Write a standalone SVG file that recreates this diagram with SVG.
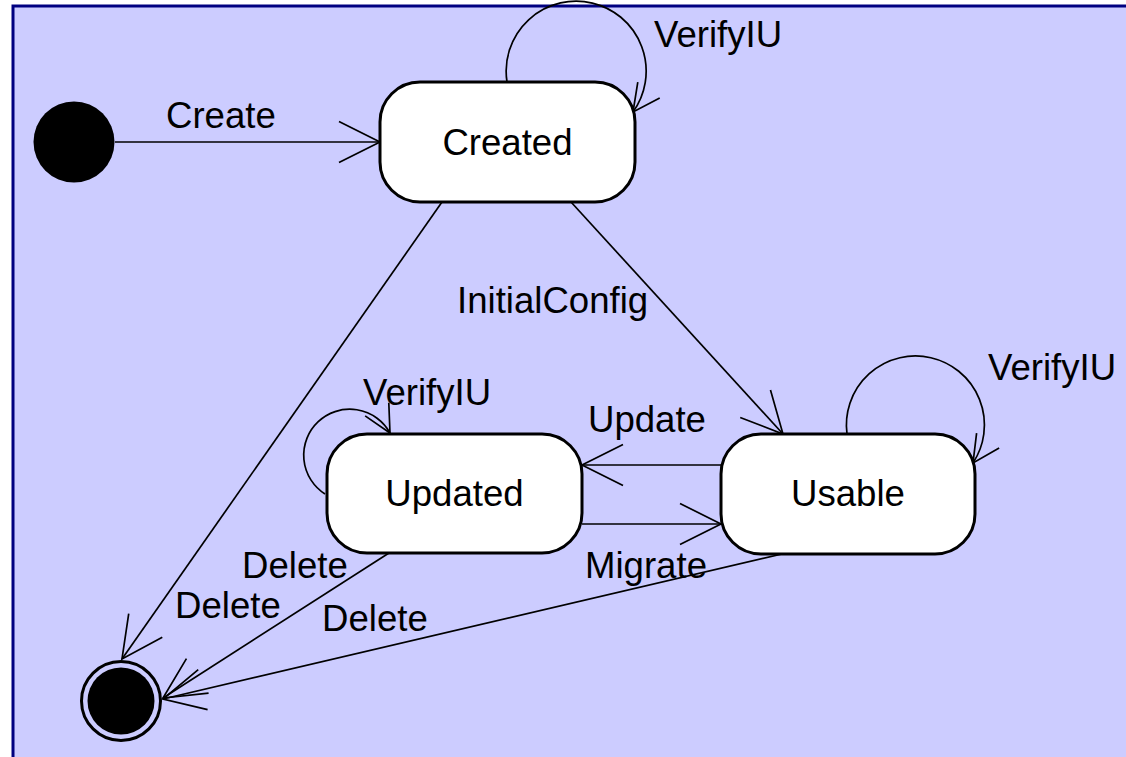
<svg xmlns="http://www.w3.org/2000/svg" width="1126" height="757" viewBox="0 0 1126 757">
  <style>
    .lbl { font-family: "Liberation Sans", Arial, sans-serif; font-size: 36.6px; fill: #000; }
    .state { fill: #fff; stroke: #000; stroke-width: 3; }
    .edge { fill: none; stroke: #000; stroke-width: 1.7; }
    .head { fill: none; stroke: #000; stroke-width: 1.7; stroke-linejoin: miter; }
  </style>
  <defs>
    <marker id="open" markerUnits="userSpaceOnUse" viewBox="-50 -30 60 60" markerWidth="60" markerHeight="60" refX="0" refY="0" orient="auto" overflow="visible">
      <path class="head" d="M-41,-20.5 L0,0 L-41,20.5"/>
    </marker>
    <marker id="openS" markerUnits="userSpaceOnUse" viewBox="-50 -30 60 60" markerWidth="60" markerHeight="60" refX="0" refY="0" orient="auto" overflow="visible">
      <path class="head" d="M-27,-13.5 L0,0 L-27,13.5"/>
    </marker>
  </defs>

  <rect id="background" x="13" y="6" width="1140" height="780" fill="#CCCCFF" stroke="#000080" stroke-width="3"/>

  <g id="connectors">
    <path class="edge" d="M115,142 L380,142" marker-end="url(#open)"/>
    <path class="edge" d="M507,82 A70,70 0 1,1 633,112" marker-end="url(#openS)"/>
    <path class="edge" d="M571,202 L783,434" marker-end="url(#open)"/>
    <path class="edge" d="M442,202 L122,659" marker-end="url(#open)"/>
    <path class="edge" d="M721,465 L582,465" marker-end="url(#open)"/>
    <path class="edge" d="M582,524 L721,524" marker-end="url(#open)"/>
    <path class="edge" d="M325,494 A46,46 0 1,1 390,433" marker-end="url(#openS)"/>
    <path class="edge" d="M847,434 A69,69 0 1,1 973,463" marker-end="url(#openS)"/>
    <path class="edge" d="M389,553 L163,698" marker-end="url(#open)"/>
    <path class="edge" d="M782,554 L163,699" marker-end="url(#open)"/>
  </g>

  <g id="labels">
    <text class="lbl" x="166" y="128">Create</text>
    <text class="lbl" x="654" y="47">VerifyIU</text>
    <text class="lbl" x="457" y="313">InitialConfig</text>
    <text class="lbl" x="988" y="380">VerifyIU</text>
    <text class="lbl" x="363" y="405">VerifyIU</text>
    <text class="lbl" x="588" y="432">Update</text>
    <text class="lbl" x="585" y="578">Migrate</text>
    <text class="lbl" x="242" y="578">Delete</text>
    <text class="lbl" x="175" y="618">Delete</text>
    <text class="lbl" x="322" y="631">Delete</text>
  </g>

  <g id="initial">
    <circle cx="74" cy="142" r="40.5" fill="#000"/>
  </g>

  <g id="created">
    <rect class="state" x="380" y="82" width="255" height="120" rx="40" ry="40"/>
    <text class="lbl" x="507.5" y="155" text-anchor="middle">Created</text>
  </g>

  <g id="updated">
    <rect class="state" x="327" y="434" width="255" height="119" rx="40" ry="40"/>
    <text class="lbl" x="454.5" y="506" text-anchor="middle">Updated</text>
  </g>

  <g id="usable">
    <rect class="state" x="721" y="434" width="254" height="120" rx="40" ry="40"/>
    <text class="lbl" x="848" y="506" text-anchor="middle">Usable</text>
  </g>

  <g id="final">
    <circle cx="121" cy="701" r="39.5" fill="none" stroke="#000" stroke-width="3"/>
    <circle cx="121" cy="701" r="33.5" fill="#000"/>
  </g>
</svg>
